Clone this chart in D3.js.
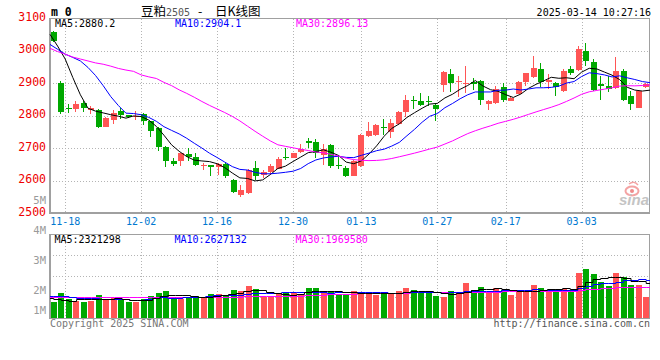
<!DOCTYPE html>
<html><head><meta charset="utf-8">
<script src="https://cdn.jsdelivr.net/npm/d3@7/dist/d3.min.js"></script>
<style>body{margin:0;background:#fff}svg{display:block}</style>
</head><body><svg id="c" width="660" height="360"></svg>
<script>
const dates = ["11-14","11-15","11-18","11-19","11-20","11-21","11-22","11-25","11-26","11-27","11-28","11-29",
"12-02","12-03","12-04","12-05","12-06","12-09","12-10","12-11","12-12","12-13",
"12-16","12-17","12-18","12-19","12-20","12-23","12-24","12-25","12-26","12-27",
"12-30","12-31","01-02","01-03","01-06","01-07","01-08","01-09","01-10",
"01-13","01-14","01-15","01-16","01-17","01-20","01-21","01-22","01-23","01-24",
"01-27","02-05","02-06","02-07","02-10","02-11","02-12","02-13","02-14",
"02-17","02-18","02-19","02-20","02-21","02-24","02-25","02-26","02-27","02-28",
"03-03","03-04","03-05","03-06","03-07","03-10","03-11","03-12","03-13","03-14"];
const open  = [3058,2901,2823,2820,2839,2819,2817,2766,2788,2815,2801,2797,2806,2783,2763,2704,2659,2659,2682,2674,
2644,2647,2642,2651,2602,2557,2562,2638,2618,2628,2636,2674,2669,2687,2722,2720,2679,2709,2648,2640,
2613,2645,2738,2740,2765,2750,2774,2811,2850,2847,2845,2834,2895,2929,2903,2900,2903,2908,2837,2839,
2888,2847,2868,2905,2918,2944,2903,2900,2875,2944,2941,3000,2966,2898,2891,2885,2939,2862,2825,2890];
const high  = [3062,2908,2835,2844,2844,2829,2820,2796,2817,2825,2803,2815,2808,2785,2766,2706,2671,2686,2701,2684,
2654,2647,2655,2654,2605,2587,2636,2659,2633,2651,2674,2699,2686,2713,2732,2728,2713,2713,2679,2646,
2662,2743,2781,2774,2791,2789,2815,2865,2862,2870,2862,2837,2937,2944,2924,2952,2916,2910,2849,2893,
2900,2860,2906,2931,2985,2964,2929,2903,2944,2954,3015,3023,2975,2924,2924,2980,2944,2876,2878,2902];
const low   = [3028,2804,2808,2812,2812,2806,2763,2765,2774,2790,2793,2786,2773,2735,2692,2643,2646,2646,2659,2646,
2633,2613,2618,2608,2562,2549,2560,2603,2608,2618,2636,2662,2669,2684,2701,2671,2648,2638,2635,2610,
2613,2643,2735,2738,2740,2730,2770,2796,2822,2829,2829,2783,2873,2873,2857,2870,2880,2834,2817,2837,
2842,2845,2866,2893,2916,2888,2883,2860,2873,2927,2939,2954,2876,2850,2873,2883,2847,2819,2823,2886];
const close = [3031,2812,2820,2835,2825,2825,2766,2793,2807,2802,2795,2800,2784,2753,2704,2659,2652,2684,2672,2648,
2647,2642,2651,2613,2564,2572,2633,2613,2628,2646,2667,2669,2684,2696,2715,2684,2696,2646,2646,2613,
2659,2740,2752,2771,2763,2779,2811,2850,2844,2832,2843,2822,2934,2901,2908,2902,2898,2850,2844,2883,
2850,2855,2903,2931,2946,2903,2910,2888,2939,2931,3005,2969,2878,2891,2883,2937,2850,2835,2876,2897];
const volume = [1140000,1730000,1320000,1210000,1140000,1210000,1600000,1320000,1410000,1250000,
1140000,1140000,1320000,1550000,1730000,1890000,1480000,1320000,1480000,1530000,
1440000,1660000,1660000,1600000,1940000,1890000,2210000,2010000,1480000,1480000,
1640000,1800000,1730000,1640000,2080000,2080000,1820000,1890000,1640000,1600000,
1890000,1800000,1710000,1600000,1710000,1750000,1890000,2080000,1940000,1780000,
1780000,1550000,1480000,1890000,1800000,2420000,1940000,2140000,1820000,2080000,
1940000,1600000,1780000,1890000,2280000,2080000,1890000,1940000,2010000,1940000,
3120000,3380000,3030000,2490000,2230000,3120000,2810000,2280000,2280000,1480000];
// MA values before a full window exists
const ma5Head  = [3051,3015,2975,2918];
const ma10Head = [3020,3005,2990,2980,2969,2949,2924,2893,2859];
const ma30Head = [3008,2998,2990,2981,2975,2969,2963,2959,2953,2946,2941,2937,2926,2920,2915,2903,2893,2880,2869,2857,2844,2832,2821,2810,2798,2784,2768,2752,2737];
const vma5Head  = [1370000,1320000,1250000,1210000];
const vma10Head = [1550000,1530000,1500000,1460000,1420000,1380000,1360000,1340000,1320000];
const vma30Head = [1480000,1480000,1470000,1470000,1470000,1460000,1460000,1460000,1460000,1450000,1450000,1450000,1450000,1460000,1460000,1470000,1470000,1470000,1470000,1470000,1470000,1480000,1480000,1480000,1490000,1490000,1500000,1500000,1500000];
const tickDates = ["11-18","12-02","12-16","12-30","01-13","01-27","02-17","03-03"];
const priceLabels = [2500,2600,2700,2800,2900,3000,3100];
const priceGrid = [2600,2700,2800,2900,3000];
const volLabels = [1,2,3,4,5];
const volGrid = [1,2,3];
const legendPrice = ["MA5:2880.2","MA10:2904.1","MA30:2896.13"];
const legendVol = ["MA5:2321298","MA10:2627132","MA30:1969580"];

const UP="#ff5555", DOWN="#00a800", GRID="#b4b4b4", BORDER="#a0a0a0";
const MONO="'DejaVu Sans Mono', 'Liberation Mono', monospace";
const svg = d3.select("#c");

const L=50,R=650, PT=18.5, PB=213, VT=234.3, VB=318.3;
const xBand = d3.scaleBand().domain(dates).range([L,R]).paddingInner(0.25).paddingOuter(0.125);
const xPt = d3.scalePoint().domain(dates).range([L,R]);
const yP = d3.scaleLinear().domain([2500,3100]).range([PB,PT]);
const yV = d3.scaleLinear().domain([0,5750000]).range([VB,VT]);
const yQ = d3.scaleLinear().domain([0,4]).range([VB,VT]);
const yLab = d3.scaleLinear().domain([0,5]).range([354.3,204.3]);

function movAvg(arr,n,head){return arr.map((_,i)=> i<n-1 ? head[i] : d3.mean(arr.slice(i-n+1,i+1)));}
const ma5=movAvg(close,5,ma5Head), ma10=movAvg(close,10,ma10Head), ma30=movAvg(close,30,ma30Head);
const vma5=movAvg(volume,5,vma5Head), vma10=movAvg(volume,10,vma10Head), vma30=movAvg(volume,30,vma30Head);

// grids
const g = svg.append("g").attr("shape-rendering","crispEdges");
g.selectAll(".hg").data(priceGrid).join("line")
  .attr("x1",L).attr("x2",R).attr("y1",d=>Math.round(yP(d))+0.5).attr("y2",d=>Math.round(yP(d))+0.5)
  .attr("stroke",GRID).attr("stroke-dasharray","1,2");
g.selectAll(".vg").data(volGrid).join("line")
  .attr("x1",L).attr("x2",R).attr("y1",d=>Math.round(yQ(d))+0.5).attr("y2",d=>Math.round(yQ(d))+0.5)
  .attr("stroke",GRID).attr("stroke-dasharray","1,2");
g.selectAll(".xg").data(tickDates).join("line")
  .attr("x1",d=>Math.round(xPt(d))+0.5).attr("x2",d=>Math.round(xPt(d))+0.5)
  .attr("y1",PT).attr("y2",PB).attr("stroke",GRID).attr("stroke-dasharray","1,2");
g.selectAll(".xg2").data(tickDates).join("line")
  .attr("x1",d=>Math.round(xPt(d))+0.5).attr("x2",d=>Math.round(xPt(d))+0.5)
  .attr("y1",VT).attr("y2",VB+3).attr("stroke",GRID).attr("stroke-dasharray","1,2");

// borders
[[PT,PB],[VT,VB]].forEach(([t,b])=>{
  svg.append("rect").attr("x",L).attr("y",t).attr("width",R-L-0.5).attr("height",b-t)
    .attr("fill","none").attr("stroke",BORDER).attr("stroke-width",1.5).attr("shape-rendering","crispEdges");
});

// watermark
const wm = svg.append("g").attr("transform","translate(632,191)");
wm.append("ellipse").attr("rx",6.5).attr("ry",4.5).attr("fill","none").attr("stroke","#f4a3a3").attr("stroke-width",2);
wm.append("circle").attr("r",2).attr("fill","#f08a8a");
wm.append("path").attr("d","M-3,-7 Q2,-11 6,-6").attr("fill","none").attr("stroke","#f4a3a3").attr("stroke-width",1.5);
svg.append("text").attr("x",619).attr("y",205).text("sina")
  .attr("font-family","'Liberation Sans', Arial, sans-serif").attr("font-size",15).attr("font-weight","bold")
  .attr("font-style","italic").attr("fill","#c4c4c4");

// candles
const bw = Math.round(xBand.bandwidth());
const candles = svg.append("g").attr("shape-rendering","crispEdges");
dates.forEach((d,i)=>{
  const col = close[i]>=open[i]?UP:DOWN;
  const x0 = Math.round(xBand(d));
  candles.append("rect").attr("x",x0+2).attr("width",1)
    .attr("y",Math.round(yP(high[i]))).attr("height",Math.max(1,Math.round(yP(low[i]))-Math.round(yP(high[i]))))
    .attr("fill",col);
  const yt=Math.round(yP(Math.max(open[i],close[i]))), yb=Math.round(yP(Math.min(open[i],close[i])));
  candles.append("rect").attr("x",x0).attr("width",bw).attr("y",yt).attr("height",Math.max(1,yb-yt)).attr("fill",col);
  const vy=Math.round(yV(volume[i]));
  candles.append("rect").attr("x",x0).attr("width",bw).attr("y",vy).attr("height",Math.round(VB)-vy).attr("fill",col);
});

// MA lines
const line = d3.line().x((v,i)=>xPt(dates[i])).y(v=>yP(v));
[[ma5,"#000"],[ma10,"#0000ff"],[ma30,"#ff00ff"]].forEach(([a,c])=>{
  svg.append("path").attr("d",line(a)).attr("fill","none").attr("stroke",c).attr("stroke-width",1);
});
const vline = d3.line().x((v,i)=>xPt(dates[i])).y(v=>Math.round(yV(v))+0.5).curve(d3.curveStep);
[[vma30,"#ff00ff"],[vma10,"#0000ff"],[vma5,"#000"]].forEach(([a,c])=>{
  svg.append("path").attr("d",vline(a)).attr("fill","none").attr("stroke",c).attr("stroke-width",1);
});

// texts
const T = (x,y,s,opt={})=>svg.append("text").attr("x",x).attr("y",y).text(s)
  .attr("font-family",opt.ff||MONO).attr("font-size",opt.fs||10).attr("fill",opt.fill||"#000")
  .attr("text-anchor",opt.anchor||"start").attr("font-weight",opt.fw||"normal");

svg.selectAll(".pl").data(priceLabels).join("text")
  .attr("x",46).attr("y",d=>yP(d)+2.5).attr("text-anchor","end").text(d=>d)
  .attr("font-family",MONO).attr("font-size",11.5).attr("fill","#ee0000");
svg.selectAll(".vl").data(volLabels).join("text")
  .attr("x",46).attr("y",d=>Math.min(314.3,yLab(d))).attr("text-anchor","end").text(d=>d+"M")
  .attr("font-family",MONO).attr("font-size",10.5).attr("fill","#9a9a9a");
svg.selectAll(".dl").data(tickDates).join("text")
  .attr("x",d=>xPt(d)).attr("y",224.5).attr("text-anchor","middle").text(d=>d)
  .attr("font-family",MONO).attr("font-size",10).attr("fill","#0078d0");

const legX=[55,175,296], legC=["#000","#0000ff","#ff00ff"];
legendPrice.forEach((s,i)=>T(legX[i],27,s,{fill:legC[i]}));
legendVol.forEach((s,i)=>T(legX[i]-0.5,242.5,s,{fill:legC[i]}));

T(51,15.5,"m 0",{fs:11.5,fw:"bold"});
const CJK="'Noto Sans CJK SC', sans-serif";
T(141,16,"豆粕",{ff:CJK,fs:12.5});
T(166,16,"2505",{fs:10,fill:"#555"});
T(198,16,"-",{ff:CJK,fs:12.5});
T(215,16,"日K线图",{ff:CJK,fs:12.5});
T(651,15.5,"2025-03-14 10:27:16",{anchor:"end"});
T(50,326.5,"Copyright 2025 SINA.COM",{fill:"#777"});
T(650,326.5,"http://finance.sina.com.cn",{anchor:"end",fill:"#555"});
</script></body></html>
